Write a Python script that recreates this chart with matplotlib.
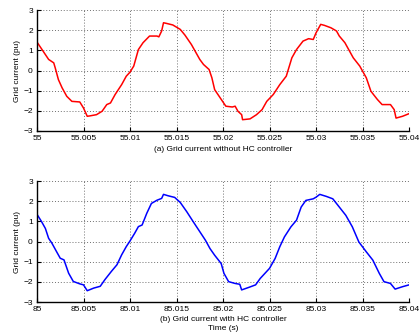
"""
Grid current with and without the HC controller, two stacked plots.
"""

import matplotlib
matplotlib.use('Agg')
import matplotlib.pyplot as plt

# top trace: grid current without HC controller
t_a = [55.0, 55.00054, 55.00125, 55.0018, 55.00196, 55.0023, 55.0027, 55.0032, 55.00375, 55.0046,
       55.005, 55.0054, 55.0057, 55.0064, 55.007, 55.0075, 55.0079, 55.0084, 55.0091, 55.0096,
       55.01, 55.0104, 55.0109, 55.0114, 55.0121, 55.0129, 55.0131, 55.0134, 55.0136, 55.0139,
       55.0146, 55.0154, 55.0159, 55.0166, 55.0175, 55.0179, 55.0185, 55.0188, 55.0191, 55.0197,
       55.0203, 55.021, 55.0213, 55.0216, 55.022, 55.0221, 55.0229, 55.0236, 55.0242, 55.0247,
       55.0254, 55.0261, 55.0268, 55.0274, 55.0279, 55.0286, 55.0292, 55.0297, 55.03, 55.0305,
       55.0309, 55.0316, 55.0322, 55.0325, 55.0331, 55.034, 55.0347, 55.035, 55.0354, 55.0359,
       55.0366, 55.0371, 55.0377, 55.038, 55.0384, 55.0386, 55.0393, 55.04]
i_a = [1.41, 1.04, 0.55, 0.38, 0.13, -0.45, -0.86, -1.28, -1.53, -1.56,
       -1.86, -2.27, -2.25, -2.19, -2.02, -1.69, -1.61, -1.19, -0.70, -0.28,
       -0.08, 0.22, 1.04, 1.38, 1.71, 1.71, 1.67, 1.96, 2.37, 2.34,
       2.26, 2.04, 1.76, 1.29, 0.55, 0.30, 0.05, -0.36, -0.95, -1.36,
       -1.77, -1.81, -1.77, -2.02, -2.19, -2.44, -2.40, -2.19, -1.94, -1.53,
       -1.19, -0.70, -0.28, 0.63, 1.04, 1.46, 1.58, 1.54, 1.87, 2.29,
       2.24, 2.12, 1.96, 1.71, 1.38, 0.63, 0.22, -0.03, -0.36, -1.03,
       -1.44, -1.69, -1.69, -1.69, -1.94, -2.36, -2.27, -2.14]

# bottom trace: grid current with HC controller
t_b = [85.0, 85.0005, 85.0009, 85.00125, 85.0016, 85.0021, 85.0025, 85.0029, 85.0034, 85.0039,
       85.0046, 85.005, 85.0054, 85.0061, 85.0068, 85.0073, 85.008, 85.0086, 85.0091, 85.0096,
       85.01, 85.0105, 85.0109, 85.0113, 85.0118, 85.0123, 85.0129, 85.0134, 85.0136, 85.0141,
       85.0148, 85.0154, 85.0161, 85.0168, 85.0175, 85.0181, 85.0186, 85.0191, 85.0198, 85.0201,
       85.0206, 85.0213, 85.0218, 85.022, 85.0228, 85.0235, 85.024, 85.0245, 85.025, 85.0256,
       85.0261, 85.0266, 85.0273, 85.0279, 85.0284, 85.0289, 85.0297, 85.03, 85.0304, 85.0311,
       85.0318, 85.0325, 85.0332, 85.0339, 85.0346, 85.0354, 85.0361, 85.0368, 85.0373, 85.038,
       85.0385, 85.0393, 85.04]
i_b = [1.35, 0.98, 0.65, 0.16, -0.08, -0.50, -0.83, -0.91, -1.57, -1.98,
       -2.10, -2.15, -2.44, -2.31, -2.22, -1.89, -1.48, -1.15, -0.66, -0.25,
       0.03, 0.41, 0.74, 0.82, 1.40, 1.89, 2.05, 2.14, 2.34, 2.27,
       2.19, 1.94, 1.48, 0.98, 0.49, 0.07, -0.35, -0.68, -1.09, -1.58,
       -1.99, -2.08, -2.12, -2.40, -2.27, -2.15, -1.83, -1.58, -1.33, -0.84,
       -0.26, 0.23, 0.73, 1.06, 1.71, 2.04, 2.12, 2.20, 2.34, 2.24,
       2.12, 1.71, 1.30, 0.73, -0.02, -0.51, -0.92, -1.58, -1.99, -2.08,
       -2.36, -2.24, -2.15]

ticks_a = [55, 55.005, 55.01, 55.015, 55.02, 55.025, 55.03, 55.035, 55.04]
ticks_b = [85, 85.005, 85.01, 85.015, 85.02, 85.025, 85.03, 85.035, 85.04]
tick_labels_a = ['55', '55.005', '55.01', '55.015', '55.02', '55.025', '55.03', '55.035', '55.04']
tick_labels_b = ['85', '85.005', '85.01', '85.015', '85.02', '85.025', '85.03', '85.035', '85.04']
yticks = [-3, -2, -1, 0, 1, 2, 3]

plt.rcParams['font.family'] = ['Liberation Sans', 'DejaVu Sans']
plt.rcParams['font.size'] = 6


def style_axes(ax, xticks, xlabels):
    ax.set_xlim(xticks[0], xticks[-1])
    ax.set_ylim(-3, 3)
    ax.set_xticks(xticks)
    ax.set_xticklabels(xlabels)
    ax.set_yticks(yticks)
    ax.spines['top'].set_visible(False)
    ax.spines['right'].set_visible(False)
    ax.spines['left'].set_linewidth(1.0)
    ax.spines['bottom'].set_linewidth(1.0)
    ax.tick_params(direction='in', length=3, width=0.8, pad=3)
    # dotted matlab style grid
    ax.grid(True, linestyle=(0, (1, 2)), color='#707070', linewidth=0.7)
    ax.set_ylabel('Grid current (pu)')
    ax.yaxis.set_label_coords(-0.043, 0.5)


fig = plt.figure(figsize=(4.19, 3.35), dpi=100)

ax1 = fig.add_axes([0.0883, 0.609, 0.888, 0.361])
ax1.plot(t_a, i_a, color='#ff0000', linewidth=1.1)
style_axes(ax1, ticks_a, tick_labels_a)
ax1.set_xlabel('(a) Grid current without HC controller', labelpad=3)

ax2 = fig.add_axes([0.0883, 0.0985, 0.888, 0.361])
ax2.plot(t_b, i_b, color='#0000ff', linewidth=1.1)
style_axes(ax2, ticks_b, tick_labels_b)
ax2.set_xlabel('(b) Grid current with HC controller\nTime (s)', labelpad=2, linespacing=1.4)

plt.savefig('out.png', dpi=100)
